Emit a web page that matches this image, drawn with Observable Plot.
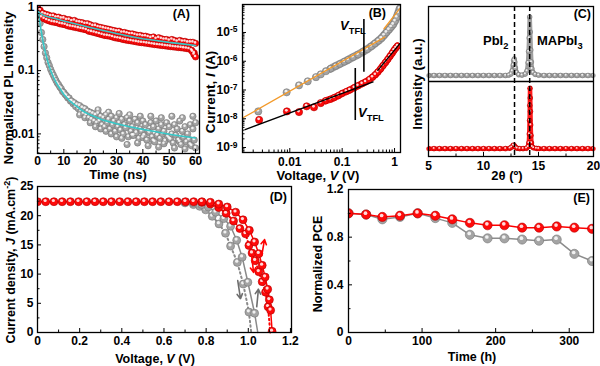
<!DOCTYPE html>
<html>
<head>
<meta charset="utf-8">
<script src="https://cdn.jsdelivr.net/npm/d3@7"></script>
<script src="https://cdn.jsdelivr.net/npm/@observablehq/plot@0.6"></script>
<style>
html,body{margin:0;padding:0;background:#fff;}
#wrap{position:relative;width:600px;height:366px;overflow:hidden;background:#fff;}
#wrap svg{position:absolute;}
</style>
</head>
<body>
<div id="wrap"></div>
<script>
// ================= DATA =================
// ---- (A) TRPL decay ----
const tA_full = [0,1,2,3,4,5,6,7,8,9,10,11,12,13,14,15,16,17,18,19,20,21,22,23,24,25,26,27,28,29,30,31,32,33,34,35,36,37,38,39,40,41,42,43,44,45,46,47,48,49,50,51,52,53,54,55,56,57,58,59,60];
const tA_half = [0.5,1.5,2.5,3.5,4.5,5.5,6.5,7.5,8.5,9.5,10.5,11.5,12.5,13.5,14.5,15.5,16.5,17.5,18.5,19.5,20.5,21.5,22.5,23.5,24.5,25.5,26.5,27.5,28.5,29.5,30.5,31.5,32.5,33.5,34.5,35.5,36.5,37.5,38.5,39.5,40.5,41.5,42.5,43.5,44.5,45.5,46.5,47.5,48.5,49.5,50.5,51.5,52.5,53.5,54.5,55.5,56.5,57.5,58.5,59.5];
const redA_up = [1.0,0.9,0.81,0.78,0.76,0.73,0.73,0.70,0.70,0.67,0.67,0.64,0.64,0.61,0.62,0.59,0.58,0.57,0.55,0.55,0.53,0.51,0.51,0.49,0.48,0.47,0.46,0.45,0.44,0.43,0.42,0.42,0.40,0.40,0.39,0.38,0.38,0.37,0.36,0.36,0.35,0.35,0.34,0.33,0.34,0.32,0.33,0.32,0.31,0.31,0.30,0.31,0.30,0.29,0.30,0.29,0.29,0.28,0.28,0.28,0.27];
const redA_lo = [0.78,0.70,0.66,0.63,0.61,0.59,0.58,0.57,0.55,0.54,0.53,0.51,0.50,0.49,0.48,0.47,0.46,0.45,0.44,0.42,0.41,0.40,0.39,0.38,0.37,0.36,0.355,0.35,0.34,0.33,0.325,0.32,0.31,0.305,0.30,0.295,0.29,0.285,0.28,0.277,0.274,0.27,0.266,0.262,0.258,0.255,0.252,0.249,0.246,0.243,0.24,0.237,0.235,0.232,0.23,0.227,0.224,0.22,0.21,0.19];
const tA_redTail = [58.8,59.4,60];
const redA_tail = [0.2,0.18,0.165];
const grayA_1 = [0.95,0.56,0.31,0.19,0.135,0.105,0.085,0.07,0.06,0.052,0.045,0.04,0.037,0.033,0.031,0.029,0.028,0.026,0.025,0.023,0.022,0.021,0.02,0.021,0.019,0.018,0.02,0.017,0.019,0.016,0.018,0.015,0.017,0.014,0.018,0.016,0.013,0.017,0.015,0.012,0.016,0.014,0.011,0.015,0.013,0.016,0.012,0.014,0.011,0.015,0.013,0.01,0.014,0.012,0.016,0.011,0.013,0.01,0.014,0.012,0.015];
const grayA_2 = [0.75,0.4,0.24,0.16,0.12,0.094,0.077,0.064,0.055,0.047,0.042,0.037,0.033,0.03,0.027,0.025,0.023,0.021,0.02,0.018,0.017,0.016,0.015,0.016,0.014,0.013,0.015,0.012,0.014,0.011,0.013,0.0115,0.01,0.0125,0.009,0.011,0.0095,0.0105,0.0085,0.011,0.0095,0.008,0.0105,0.009,0.0075,0.0095,0.0085,0.01,0.0078,0.009,0.0082,0.0072,0.0095,0.008,0.0068,0.0088,0.0075,0.0082,0.0065,0.008];
const tA_grayLow = [16,18,20,22,24,26,28,30,32,34,36,38,40,42,44,46,48,50,52,54,56,58,60];
const grayA_low = [0.02,0.018,0.015,0.013,0.012,0.011,0.01,0.009,0.0085,0.0068,0.0095,0.0072,0.0088,0.0065,0.0078,0.0062,0.007,0.0085,0.006,0.0075,0.0058,0.0068,0.006];
const tA_grayHigh = [23,27,31,35,39,43,47,51,55,59];
const grayA_high = [0.024,0.022,0.021,0.02,0.019,0.019,0.018,0.019,0.018,0.019];
const fitRedT = [0.3,0.7,1,1.5,2,3,4,5,7,10,15,20,25,30,35,40,45,50,55,60];
const fitRedV = [0.86,0.83,0.81,0.78,0.76,0.73,0.71,0.69,0.66,0.61,0.54,0.48,0.43,0.385,0.35,0.32,0.30,0.28,0.265,0.25];
const fitGrayT = [0.3,0.5,0.75,1,1.25,1.5,2,2.5,3,3.5,4,5,6,7,8,10,12,14,16,18,20,25,30,35,40,45,50,55,60];
const fitGrayV = [0.84,0.78,0.65,0.55,0.46,0.40,0.30,0.235,0.19,0.16,0.135,0.10,0.08,0.066,0.056,0.042,0.034,0.029,0.025,0.022,0.020,0.0165,0.0145,0.013,0.0118,0.0108,0.0099,0.0092,0.0086];
const ticksA_x = [0,10,20,30,40,50,60];
const ticksA_y = [0.01,0.1,1];

// ---- (B) I-V (log-log) ----
const grayB_sparseV = [0.0025,0.0087,0.015,0.022,0.0316,0.039,0.049];
const grayB_sparseI = [1.8e-8,8.3e-8,1.45e-7,2.0e-7,2.8e-7,3.5e-7,4.5e-7];
const grayB_bandV = [0.06,0.075,0.09,0.11,0.13,0.16,0.2,0.25,0.3,0.36,0.42,0.49,0.56,0.63,0.7,0.78,0.86,0.94,1.02,1.1,1.18,1.26];
const grayB_bandI = [5.5e-7,6.8e-7,8e-7,9.6e-7,1.12e-6,1.38e-6,1.7e-6,2.15e-6,2.6e-6,3.3e-6,4.1e-6,5.1e-6,6.3e-6,8e-6,1.0e-5,1.25e-5,1.55e-5,1.9e-5,2.5e-5,3.4e-5,4.8e-5,6.8e-5];
const redB_sparseV = [0.0026,0.0088,0.015,0.021,0.029,0.039];
const redB_sparseI = [9.1e-9,1.8e-8,1.7e-8,2.7e-8,2.5e-8,3.5e-8];
const redB_bandV = [0.048,0.06,0.07,0.085,0.1,0.12,0.14,0.17,0.2,0.24,0.28,0.33,0.38,0.43,0.48,0.54,0.6,0.67,0.74,0.82,0.9,0.98,1.06,1.14];
const redB_bandI = [4.2e-8,4.8e-8,5.4e-8,6.4e-8,7.6e-8,8.8e-8,1.0e-7,1.2e-7,1.4e-7,1.65e-7,1.9e-7,2.3e-7,2.8e-7,3.4e-7,4.2e-7,5.4e-7,7e-7,9e-7,1.15e-6,1.5e-6,1.9e-6,2.4e-6,2.9e-6,3.4e-6];
const orangeFitV = [0.0013,0.65];
const orangeFitI = [1.1e-8,6.9e-6];
const orangeFit2V = [0.63,1.4];
const orangeFit2I = [1.35e-5,8.7e-5];
const blackFitV = [0.0014,0.39];
const blackFitI = [4.2e-9,1.9e-7];
const blackFit2V = [0.48,1.26];
const blackFit2I = [4.8e-7,4.1e-6];
const vtflV = [0.26,0.178];
const vtflI1 = [4.1e-7,8.7e-9];
const vtflI2 = [2.8e-5,5.6e-7];
const ticksB_x = [0.01,0.1,1];
const ticksB_y = [1e-9,1e-8,1e-7,1e-6,1e-5];

// ---- (C) XRD ----
const grayXRD_2t = [5,5.5,6,6.5,7,7.5,8,8.5,9,9.5,10,10.5,11,11.5,12,12.3,12.5,12.6,12.7,12.75,12.8,12.85,12.9,13.0,13.2,13.5,13.8,13.95,14.05,14.1,14.15,14.2,14.25,14.3,14.35,14.4,14.5,14.7,15,15.5,16,16.5,17,17.5,18,18.5,19,19.5,20];
const grayXRD_I = [0.08,0.08,0.08,0.08,0.08,0.08,0.08,0.08,0.08,0.08,0.08,0.08,0.08,0.08,0.08,0.085,0.1,0.14,0.22,0.28,0.30,0.26,0.18,0.12,0.09,0.085,0.1,0.14,0.25,0.4,0.58,0.86,0.66,0.42,0.26,0.17,0.12,0.095,0.085,0.08,0.08,0.08,0.08,0.08,0.08,0.08,0.08,0.08,0.08];
const redXRD_2t = [5,5.5,6,6.5,7,7.5,8,8.5,9,9.5,10,10.5,11,11.5,12,12.4,12.55,12.7,12.8,12.9,13.05,13.3,13.6,13.9,14.05,14.12,14.16,14.19,14.21,14.23,14.25,14.27,14.29,14.32,14.36,14.42,14.55,14.8,15,15.5,16,16.5,17,17.5,18,18.5,19,19.5,20];
const redXRD_I = [0.105,0.105,0.105,0.105,0.105,0.105,0.105,0.105,0.105,0.105,0.105,0.105,0.105,0.105,0.105,0.11,0.125,0.15,0.145,0.125,0.11,0.105,0.105,0.11,0.13,0.18,0.3,0.48,0.68,0.91,0.78,0.6,0.42,0.28,0.18,0.13,0.115,0.108,0.105,0.105,0.105,0.105,0.105,0.105,0.105,0.105,0.105,0.105,0.105];
const xrdPeaks = [12.82,14.2];
const ticksC_x = [5,10,15,20];

// ---- (D) J-V ----
const redJV_fwd = [[0,22.4],[0.039,22.4],[0.078,22.4],[0.117,22.4],[0.156,22.4],[0.195,22.4],[0.234,22.4],[0.273,22.4],[0.312,22.4],[0.351,22.4],[0.39,22.4],[0.429,22.4],[0.468,22.4],[0.507,22.4],[0.546,22.4],[0.585,22.4],[0.624,22.4],[0.663,22.4],[0.702,22.4],[0.741,22.4],[0.78,22.4],[0.82,22.3],[0.86,22.0],[0.9,21.5],[0.94,20.6],[0.975,19.3],[1.005,17.5],[1.03,15.5],[1.05,13.5],[1.066,11.5],[1.08,9.5],[1.092,7.4],[1.1,5.6],[1.106,3.8],[1.113,0.2]];
const redJV_rev = [[0.78,22.3],[0.82,22.0],[0.86,21.4],[0.895,20.4],[0.93,19.1],[0.96,17.8],[0.987,16.9],[1.003,14.9],[1.018,13.6],[1.033,12.3],[1.05,10.4],[1.066,8.7],[1.082,6.9],[1.094,4.4],[1.104,0]];
const grayJV_fwd = [[0.70,22.3],[0.74,22.2],[0.78,21.9],[0.81,21.5],[0.845,20.6],[0.884,19.5],[0.916,18.2],[0.945,15.8],[0.971,12.9],[0.998,8.6],[1.03,3.3],[1.045,0]];
const grayJV_rev = [[0.70,22.2],[0.74,21.9],[0.77,21.6],[0.798,21.0],[0.829,19.9],[0.861,18.6],[0.892,17.0],[0.916,14.8],[0.948,12.0],[0.976,8.3],[1.003,3.5],[1.014,0]];
const scanArrows = [
  {v1:0.950,j1:8.9,v2:0.963,j2:5.8,c:"#6e6e6e"},
  {v1:1.040,j1:4.4,v2:1.048,j2:7.4,c:"#6e6e6e"},
  {v1:1.064,j1:13.2,v2:1.077,j2:15.9,c:"#ff0000"},
  {v1:1.016,j1:13.2,v2:1.025,j2:10.3,c:"#ff0000"}
];
const ticksD_x = [0,0.2,0.4,0.6,0.8,1.0,1.2];
const ticksD_y = [0,5,10,15,20,25];

// ---- (E) stability ----
const timeE = [0,24,46,70,94,118,141,165,189,212,236,259,283,307,331];
const redPCE = [1.0,0.99,0.97,0.98,1.0,0.98,0.95,0.92,0.90,0.90,0.88,0.88,0.89,0.88,0.87];
const grayPCE = [1.0,0.99,0.95,0.97,1.0,0.96,0.92,0.82,0.79,0.79,0.78,0.77,0.78,0.66,0.60];
const ticksE_x = [0,100,200,300];
const ticksE_y = [0,0.4,0.8,1.2];

// ================= HELPERS =================
const wrap = document.getElementById("wrap");
const FONT = "'Liberation Sans', Arial, Helvetica, sans-serif";
const RED = "#ff0a0a", RED_EDGE = "#b00000", GRAY = "#a4a4a4", GRAY_EDGE = "#767676";
const CYAN = "#36c8c8", ORANGE = "#f39a2a";

function sty(fs) { return {fontFamily: FONT, fontSize: fs + "px", fontWeight: "bold", color: "#000", background: "transparent", overflow: "visible"}; }
function mount(svg, left, top) { svg.style.position = "absolute"; svg.style.left = left + "px"; svg.style.top = top + "px"; svg.style.maxWidth = "none"; wrap.appendChild(svg); return svg; }
function balls(data, x, y, fill, edge, r) {
  return [
    Plot.dot(data, {x, y, r, fill, stroke: edge, strokeWidth: 0.6, clip: true}),
    Plot.dot(data, {x, y, r: Math.max(0.9, r * 0.4), fill: "#fff", fillOpacity: 0.85, dx: -r * 0.15, dy: -r * 0.3, clip: true})
  ];
}
function inX(vals, fh, len) { return Plot.tickX(vals, {x: d => d, insetTop: fh - len, stroke: "#000", strokeWidth: 1}); }
function inY(vals, fw, len) { return Plot.tickY(vals, {y: d => d, insetRight: fw - len, stroke: "#000", strokeWidth: 1}); }
function logMinor(lo, hi) {
  const out = [];
  for (let e = Math.floor(Math.log10(lo)); e <= Math.ceil(Math.log10(hi)); e++)
    for (let m = 2; m <= 9; m++) { const v = m * Math.pow(10, e); if (v > lo && v < hi) out.push(v); }
  return out;
}
function zip(xs, ys, kx = "x", ky = "y") { return xs.map((x, i) => ({[kx]: x, [ky]: ys[i]})); }
const frame = () => Plot.frame({stroke: "#000", strokeWidth: 1.3});

// ================= PANEL A =================
const redPtsA = [...zip(tA_full, redA_up), ...zip(tA_half, redA_lo), ...zip(tA_redTail, redA_tail)];
const grayPtsA = [...zip(tA_full, grayA_1), ...zip(tA_half, grayA_2), ...zip(tA_grayLow, grayA_low), ...zip(tA_grayHigh, grayA_high)].sort((a, b) => a.x - b.x);
mount(Plot.plot({
  width: 205, height: 182, marginLeft: 37, marginRight: 6, marginTop: 5, marginBottom: 29,
  style: sty(12),
  x: {domain: [0, 61.5]},
  y: {type: "log", domain: [0.0049, 1.07]},
  marks: [
    ...balls(grayPtsA, "x", "y", GRAY, GRAY_EDGE, 3.2),
    ...balls(redPtsA, "x", "y", RED, RED_EDGE, 3.2),
    Plot.line(zip(fitRedT, fitRedV), {x: "x", y: "y", stroke: CYAN, strokeWidth: 1.6, clip: true}),
    Plot.line(zip(fitGrayT, fitGrayV), {x: "x", y: "y", stroke: CYAN, strokeWidth: 1.6, clip: true}),
    frame(),
    inX(ticksA_x, 148, 4), inX([5,15,25,35,45,55], 148, 2.5),
    inY(ticksA_y, 162, 4), inY(logMinor(0.0049, 1.07), 162, 2.5),
    Plot.axisX(ticksA_x, {tickSize: 0, tickPadding: 3, label: null}),
    Plot.axisY(ticksA_y, {tickSize: 0, tickPadding: 3, tickFormat: d => String(d), label: null})
  ]
}), 0, 0);

// ================= PANEL B =================
const svgB = Plot.plot({
  width: 200, height: 182, marginLeft: 37, marginRight: 5, marginTop: 4, marginBottom: 30,
  style: sty(12),
  x: {type: "log", domain: [0.00125, 1.3]},
  y: {type: "log", domain: [6.7e-10, 9.4e-5]},
  marks: [
    Plot.line(zip(grayB_bandV, grayB_bandI), {x: "x", y: "y", stroke: "#9c9c9c", strokeWidth: 8, strokeLinecap: "round", clip: true}),
    ...balls(zip(grayB_bandV, grayB_bandI), "x", "y", GRAY, GRAY_EDGE, 3.4),
    ...balls(zip(grayB_sparseV, grayB_sparseI), "x", "y", GRAY, GRAY_EDGE, 3.6),
    Plot.line(zip(orangeFitV, orangeFitI), {x: "x", y: "y", stroke: ORANGE, strokeWidth: 1.3, clip: true}),
    Plot.line(zip(orangeFit2V, orangeFit2I), {x: "x", y: "y", stroke: ORANGE, strokeWidth: 1.3, clip: true}),
    Plot.line(zip(redB_bandV, redB_bandI), {x: "x", y: "y", stroke: "#ff1a1a", strokeWidth: 7, strokeLinecap: "round", clip: true}),
    ...balls(zip(redB_bandV, redB_bandI), "x", "y", RED, RED_EDGE, 3.2),
    ...balls(zip(redB_sparseV, redB_sparseI), "x", "y", RED, RED_EDGE, 3.6),
    Plot.line(zip(blackFitV, blackFitI), {x: "x", y: "y", stroke: "#000", strokeWidth: 1.3, clip: true}),
    Plot.line(zip(blackFit2V, blackFit2I), {x: "x", y: "y", stroke: "#000", strokeWidth: 1.3, clip: true}),
    Plot.ruleX(vtflV.map((v, i) => ({v, a: vtflI1[i], b: vtflI2[i]})), {x: "v", y1: "a", y2: "b", stroke: "#000", strokeWidth: 1.6}),
    frame(),
    inX(ticksB_x, 148, 4), inX(logMinor(0.00125, 1.3), 148, 2.5),
    inY(ticksB_y, 158, 4), inY(logMinor(6.7e-10, 9.4e-5), 158, 2.5),
    Plot.axisX(ticksB_x, {tickSize: 0, tickPadding: 5, tickFormat: d => String(d), label: null}),
    Plot.axisY(ticksB_y, {tickSize: 0, tickPadding: 5, tickFormat: d => String(Math.round(Math.log10(d))), label: null})
  ]
});
mount(svgB, 205, 0);
svgB.querySelectorAll('g[aria-label="y-axis tick label"] text').forEach(t => {
  const e = t.textContent;
  t.innerHTML = `10<tspan dy="-0.45em" font-size="8.5">${e}</tspan>`;
});

// ================= PANEL C =================
mount(Plot.plot({
  width: 195, height: 182, marginLeft: 23, marginRight: 7, marginTop: 6, marginBottom: 26,
  style: sty(12),
  x: {domain: [5, 20]},
  y: {domain: [0, 2], axis: null},
  marks: [
    Plot.line(zip(grayXRD_2t, grayXRD_I), {x: "x", y: d => d.y + 1, stroke: "#a0a0a0", strokeWidth: 4.5}),
    ...balls(zip(grayXRD_2t, grayXRD_I).map(d => ({x: d.x, y: d.y + 1})), "x", "y", GRAY, GRAY_EDGE, 2.4),
    Plot.line(zip(redXRD_2t, redXRD_I), {x: "x", y: "y", stroke: "#ff1a1a", strokeWidth: 4.5}),
    ...balls(zip(redXRD_2t, redXRD_I), "x", "y", RED, RED_EDGE, 2.4),
    Plot.ruleY([1], {stroke: "#000", strokeWidth: 1.3}),
    Plot.ruleX(xrdPeaks, {stroke: "#000", strokeWidth: 1.5, strokeDasharray: "5,3"}),
    frame(),
    inX(ticksC_x, 150, 4), inX([7.5, 12.5, 17.5], 150, 2.5),
    Plot.axisX(ticksC_x, {tickSize: 0, tickPadding: 5, label: null})
  ]
}), 405, 0);

// ================= PANEL D =================
mount(Plot.plot({
  width: 300, height: 184, marginLeft: 37, marginRight: 9, marginTop: 4, marginBottom: 34,
  style: sty(12),
  x: {domain: [0, 1.205]},
  y: {domain: [0, 25]},
  marks: [
    Plot.line(grayJV_rev, {x: d => d[0], y: d => d[1], stroke: "#8a8a8a", strokeWidth: 2, strokeDasharray: "1.5,3"}),
    Plot.line(grayJV_fwd, {x: d => d[0], y: d => d[1], stroke: "#8a8a8a", strokeWidth: 1.5}),
    ...balls(grayJV_rev.filter(d => d[1] > 0), d => d[0], d => d[1], GRAY, GRAY_EDGE, 4),
    ...balls(grayJV_fwd.filter(d => d[1] > 0), d => d[0], d => d[1], GRAY, GRAY_EDGE, 4),
    Plot.line(redJV_rev, {x: d => d[0], y: d => d[1], stroke: "#ff0000", strokeWidth: 2, strokeDasharray: "1.5,3"}),
    Plot.line(redJV_fwd, {x: d => d[0], y: d => d[1], stroke: "#ff0000", strokeWidth: 1.5}),
    ...balls(redJV_rev.filter(d => d[1] > 0), d => d[0], d => d[1], RED, RED_EDGE, 4),
    ...balls(redJV_fwd, d => d[0], d => d[1], RED, RED_EDGE, 4),
    Plot.arrow(scanArrows, {x1: "v1", y1: "j1", x2: "v2", y2: "j2", stroke: "c", strokeWidth: 1.6, headLength: 5, bend: 0}),
    frame(),
    inX(ticksD_x, 146, 4), inX([0.1,0.3,0.5,0.7,0.9,1.1], 146, 2.5),
    inY(ticksD_y, 254, 4), inY([2.5,7.5,12.5,17.5,22.5], 254, 2.5),
    Plot.axisX(ticksD_x, {tickSize: 0, tickPadding: 4, tickFormat: d => d === 0 ? "0" : d.toFixed(1), label: null}),
    Plot.axisY(ticksD_y, {tickSize: 0, tickPadding: 4, label: null})
  ]
}), 0, 182);

// ================= PANEL E =================
const redE = zip(timeE, redPCE), grayE = zip(timeE, grayPCE);
mount(Plot.plot({
  width: 300, height: 184, marginLeft: 48, marginRight: 7, marginTop: 7, marginBottom: 34,
  style: sty(12),
  x: {domain: [0, 333]},
  y: {domain: [0, 1.2]},
  marks: [
    Plot.line(grayE, {x: "x", y: "y", stroke: "#8c8c8c", strokeWidth: 1.5}),
    ...balls(grayE, "x", "y", GRAY, GRAY_EDGE, 4.6),
    Plot.line(redE, {x: "x", y: "y", stroke: "#ff0000", strokeWidth: 1.5}),
    ...balls(redE, "x", "y", RED, RED_EDGE, 4.6),
    frame(),
    inX(ticksE_x, 143, 4), inX([50,150,250], 143, 2.5),
    inY(ticksE_y, 245, 4), inY([0.2,0.6,1.0], 245, 2.5),
    Plot.axisX(ticksE_x, {tickSize: 0, tickPadding: 4, label: null}),
    Plot.axisY(ticksE_y, {tickSize: 0, tickPadding: 5, tickFormat: d => d === 0 ? "0" : d.toFixed(1), label: null})
  ]
}), 300, 182);

// ================= TEXT OVERLAY =================
const ov = d3.select(wrap).append("svg").attr("width", 600).attr("height", 366)
  .style("left", "0px").style("top", "0px").style("pointer-events", "none")
  .attr("font-family", FONT).attr("font-weight", "bold").attr("fill", "#000");
function rich(t, parts, base) {
  let shift = 0;
  for (const p of parts) {
    const [s, o] = typeof p === "string" ? [p, {}] : p;
    const ts = t.append("tspan").text(s);
    const target = o.sub ? base * 0.3 : o.sup ? -base * 0.4 : 0;
    if (target !== shift) { ts.attr("dy", target - shift); shift = target; }
    if (o.sub || o.sup) ts.attr("font-size", base * 0.72);
    if (o.it) ts.attr("font-style", "italic");
  }
}
function label(x, y, parts, {size = 13, anchor = "middle", rot = false} = {}) {
  const t = ov.append("text").attr("font-size", size).attr("text-anchor", anchor);
  if (rot) t.attr("transform", `translate(${x + size * 0.36},${y}) rotate(-90)`);
  else t.attr("x", x).attr("y", y);
  rich(t, parts, size);
}
// axis titles
label(8, 88, ["Normalized PL Intensity"], {rot: true, size: 13.5});
label(118, 179, ["Time (ns)"], {size: 13});
label(210, 92, ["Current, ", ["I", {it: true}], " (A)"], {rot: true, size: 13.5});
label(318, 180, ["Voltage, ", ["V", {it: true}], " (V)"], {size: 13});
label(417, 84, ["Intensity (a.u.)"], {rot: true, size: 13.5});
label(507, 180, ["2θ (º)"], {size: 13});
label(10, 260, ["Current density, ", ["J", {it: true}], " (mA.cm", ["-2", {sup: true}], ")"], {rot: true, size: 12.5});
label(155, 363, ["Voltage, ", ["V", {it: true}], " (V)"], {size: 12.5});
label(317, 264, ["Normalized PCE"], {rot: true, size: 12.5});
label(472, 361, ["Time (h)"], {size: 12.5});
// panel letters
label(190, 18, ["(A)"], {anchor: "end", size: 12.5});
label(386, 17, ["(B)"], {anchor: "end", size: 12.5});
label(591, 18, ["(C)"], {anchor: "end", size: 12.5});
label(287, 201, ["(D)"], {anchor: "end", size: 12.5});
label(590, 202, ["(E)"], {anchor: "end", size: 12.5});
// annotations
label(340, 30, [["V", {it: true}], ["TFL", {sub: true}]], {anchor: "start", size: 13});
label(358, 117, [["V", {it: true}], ["TFL", {sub: true}]], {anchor: "start", size: 13});
label(483, 45, ["PbI", ["2", {sub: true}]], {anchor: "start", size: 13});
label(537, 45, ["MAPbI", ["3", {sub: true}]], {anchor: "start", size: 13});
</script>
</body>
</html>
